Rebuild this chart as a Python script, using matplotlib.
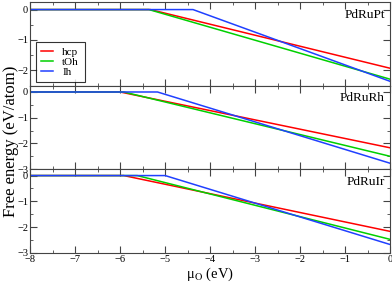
import matplotlib
matplotlib.use("Agg")
import matplotlib.pyplot as plt
from matplotlib.ticker import MultipleLocator

plt.rcParams['font.family'] = ['Liberation Serif', 'DejaVu Serif']
plt.rcParams['mathtext.fontset'] = 'stix'

# free energy vs oxygen chemical potential, piecewise: flat at 0 then linear
panels = ["PdRuPt", "PdRuRh", "PdRuIr"]
series = ["hcp", "tOh", "Ih"]
colors = ["#ff0000", "#00d000", "#2040ff"]

# kink position (eV) and value at mu_O = 0 for each panel / structure
kinks = {
    "PdRuPt": [-5.33, -5.36, -4.38],
    "PdRuRh": [-6.00, -5.92, -5.17],
    "PdRuIr": [-5.92, -5.62, -5.00],
}
ends = {
    "PdRuPt": [-1.93, -2.29, -2.36],
    "PdRuRh": [-2.17, -2.50, -2.77],
    "PdRuIr": [-2.17, -2.48, -2.68],
}
ylims = [(-2.5, 0.25), (-3.0, 0.25), (-3.0, 0.25)]
yticks = [[0, -1, -2], [0, -1, -2, -3], [0, -1, -2, -3]]

fig, axes = plt.subplots(3, 1, figsize=(3.92, 2.83), dpi=100, sharex=True)
fig.subplots_adjust(left=0.077, right=0.995, top=0.993, bottom=0.107, hspace=0)

for i, (ax, name) in enumerate(zip(axes, panels)):
    for j, s in enumerate(series):
        ax.plot([-8, kinks[name][j], 0], [0, 0, ends[name][j]],
                color=colors[j], lw=1.1, label=s)
    ax.set_xlim(-8, 0)
    ax.set_ylim(*ylims[i])
    ax.set_yticks(yticks[i])
    ax.xaxis.set_major_locator(MultipleLocator(1))
    ax.xaxis.set_minor_locator(MultipleLocator(0.5))
    ax.yaxis.set_minor_locator(MultipleLocator(0.5))
    ax.tick_params(which='both', direction='in', top=True, right=True,
                   labelsize=7.5, pad=2, color='#444444')
    ax.tick_params(axis='y', pad=1.5)
    ax.tick_params(which='major', length=5)
    ax.tick_params(which='minor', length=2.5)
    for sp in ax.spines.values():
        sp.set_color('#444444')
        sp.set_linewidth(0.8)
    ax.text(0.985, 0.85, name, transform=ax.transAxes, ha='right', va='center',
            fontsize=9.5)

leg = axes[0].legend(loc='lower left', bbox_to_anchor=(0.015, 0.04),
                     fontsize=8, frameon=True, fancybox=False,
                     handlelength=1.1, borderpad=0.5, labelspacing=0.0,
                     handletextpad=0.8, borderaxespad=0)
leg.get_frame().set_edgecolor('black')
leg.get_frame().set_linewidth(0.8)

axes[2].set_xticks(range(-8, 1))
axes[2].set_xlabel(r"μ$_\mathrm{O}$ (eV)", fontsize=10.5, labelpad=1)
fig.text(0.027, 0.50, "Free energy (eV/atom)", rotation=90, ha='center',
         va='center', fontsize=12)

fig.savefig("out.png", dpi=100)
